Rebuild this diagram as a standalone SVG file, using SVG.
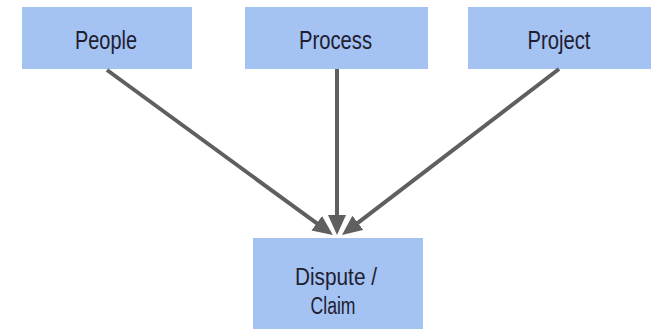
<svg xmlns="http://www.w3.org/2000/svg" width="652" height="329" viewBox="0 0 652 329">
  <style>
    .box { fill: #a4c2f2; }
    .label { font-family: "Liberation Sans", Arial, sans-serif; font-size: 26px; fill: #1e2030; text-anchor: middle; }
    .small { font-size: 23px; }
    .conn { stroke: #5f5f5f; stroke-width: 4; fill: none; marker-end: url(#head); }
  </style>
  <defs>
    <marker id="head" markerUnits="userSpaceOnUse" markerWidth="22" markerHeight="20" refX="7" refY="9" orient="auto">
      <path d="M0,0 L20,9 L0,18 z" fill="#5f5f5f"/>
    </marker>
  </defs>
  <rect width="652" height="329" fill="#ffffff"/>

  <g id="people">
    <rect class="box" x="22" y="7" width="170" height="62"/>
    <text class="label" x="106" y="49" textLength="62" lengthAdjust="spacingAndGlyphs">People</text>
  </g>
  <g id="process">
    <rect class="box" x="245" y="7" width="183" height="62"/>
    <text class="label" x="335.5" y="49" textLength="73" lengthAdjust="spacingAndGlyphs">Process</text>
  </g>
  <g id="project">
    <rect class="box" x="468" y="7" width="183" height="62"/>
    <text class="label" x="559" y="49" textLength="63" lengthAdjust="spacingAndGlyphs">Project</text>
  </g>
  <g id="dispute">
    <rect class="box" x="253" y="238" width="170" height="91"/>
    <text class="label small" x="336" y="285" textLength="82" lengthAdjust="spacingAndGlyphs">Dispute /</text>
    <text class="label small" x="333" y="314" textLength="45" lengthAdjust="spacingAndGlyphs">Claim</text>
  </g>

  <g id="connectors">
    <line class="conn" x1="107" y1="70" x2="322.4" y2="227.4"/>
    <line class="conn" x1="337" y1="69" x2="337" y2="222"/>
    <line class="conn" x1="559" y1="69" x2="352.3" y2="227.1"/>
  </g>
</svg>
